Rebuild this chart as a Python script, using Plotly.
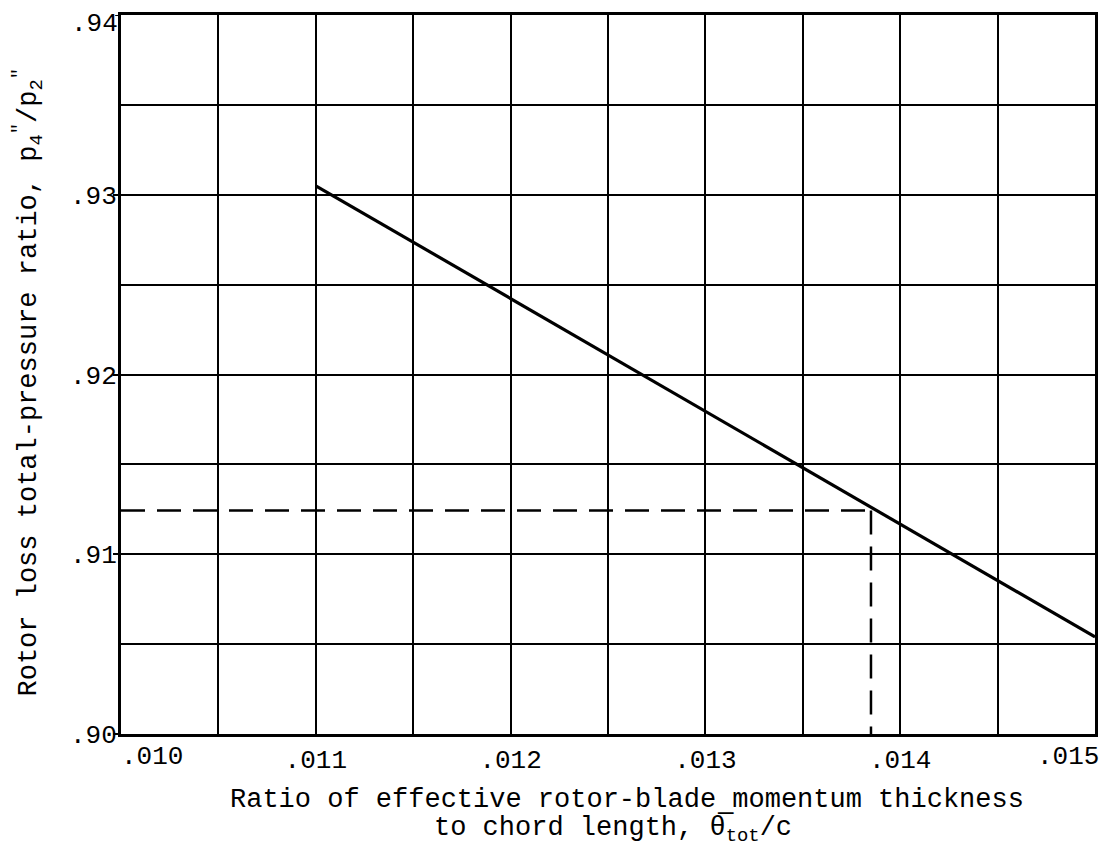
import plotly.graph_objects as go

# Data
line_x = [0.011, 0.015]
line_y = [0.9305, 0.9054]
ref_x = 0.01385
ref_y = 0.91243
dash_h_x = [0.010, ref_x]
dash_h_y = [ref_y, ref_y]
dash_v_x = [ref_x, ref_x]
dash_v_y = [ref_y, 0.900]

x_ticks = [0.010, 0.011, 0.012, 0.013, 0.014, 0.015]
x_tick_text = [".010", ".011", ".012", ".013", ".014", ".015"]
y_ticks = [0.90, 0.91, 0.92, 0.93, 0.94]
y_tick_text = [".90", ".91", ".92", ".93", ".94"]

x_title_1 = "Ratio of effective rotor-blade momentum thickness"
x_title_2 = "to chord length, θ\u0305<sub>tot</sub>/c"
y_title = 'Rotor loss total-pressure ratio, p<sub>4</sub><sup>"</sup>/p<sub>2</sub><sup>"</sup>'

FONT = "Liberation Mono"
TICK_SIZE = 26
TITLE_SIZE = 27

fig = go.Figure()
fig.add_trace(go.Scatter(x=dash_h_x, y=dash_h_y, mode="lines",
                         line=dict(color="black", width=2.5, dash="24px,12px"),
                         showlegend=False))
fig.add_trace(go.Scatter(x=dash_v_x, y=dash_v_y, mode="lines",
                         line=dict(color="black", width=2.5, dash="24px,12px"),
                         showlegend=False))
fig.add_trace(go.Scatter(x=line_x, y=line_y, mode="lines",
                         line=dict(color="black", width=3.2),
                         showlegend=False))

inner_x = range(1, len(x_ticks) - 1)
fig.update_xaxes(
    range=[0.010, 0.015],
    tickvals=[x_ticks[i] for i in inner_x],
    ticktext=[x_tick_text[i] for i in inner_x],
    ticks="", showgrid=True, gridcolor="black", gridwidth=2,
    minor=dict(dtick=0.0005, showgrid=True, gridcolor="black", gridwidth=2),
    showline=True, linecolor="black", linewidth=3, mirror=True,
    zeroline=False, automargin=False,
    tickfont=dict(family=FONT, size=TICK_SIZE, color="black"),
)
# top y label (.94) is drawn as an annotation so it is not lost at the page edge
fig.update_yaxes(
    range=[0.90, 0.94],
    tickvals=y_ticks[:-1], ticktext=y_tick_text[:-1],
    ticks="outside", ticklen=5, tickcolor="black", tickwidth=2,
    ticklabelstandoff=-9,
    showgrid=True, gridcolor="black", gridwidth=2,
    minor=dict(dtick=0.005, showgrid=True, gridcolor="black", gridwidth=2),
    showline=True, linecolor="black", linewidth=3, mirror=True,
    zeroline=False, automargin=False,
    tickfont=dict(family=FONT, size=TICK_SIZE, color="black"),
)
fig.add_shape(type="line", xref="paper", yref="y", x0=-0.006, x1=0,
              y0=y_ticks[-1], y1=y_ticks[-1], line=dict(color="black", width=2))
fig.add_annotation(x=0, y=y_ticks[-1], xref="paper", yref="y", text=y_tick_text[-1],
                   showarrow=False, xanchor="right", yanchor="top", xshift=-1, yshift=8,
                   font=dict(family=FONT, size=TICK_SIZE, color="black"))

# end x tick labels, offset inward as in the reference
fig.add_annotation(x=x_ticks[0], y=0, xref="x", yref="paper", text=x_tick_text[0],
                   showarrow=False, xanchor="left", yanchor="top", xshift=-2, yshift=-6,
                   font=dict(family=FONT, size=TICK_SIZE, color="black"))
fig.add_annotation(x=x_ticks[-1], y=0, xref="x", yref="paper", text=x_tick_text[-1],
                   showarrow=False, xanchor="right", yanchor="top", xshift=6, yshift=-6,
                   font=dict(family=FONT, size=TICK_SIZE, color="black"))

# axis titles
fig.add_annotation(x=0.52, y=0, xref="paper", yref="paper", text=x_title_1,
                   showarrow=False, xanchor="center", yanchor="middle", yshift=-66,
                   font=dict(family=FONT, size=TITLE_SIZE, color="black"))
fig.add_annotation(x=0.505, y=0, xref="paper", yref="paper", text=x_title_2,
                   showarrow=False, xanchor="center", yanchor="middle", yshift=-95,
                   font=dict(family=FONT, size=TITLE_SIZE, color="black"))
fig.add_annotation(x=0, y=0.5, xref="paper", yref="paper", text=y_title,
                   showarrow=False, textangle=-90, xanchor="center", yanchor="middle",
                   xshift=-93, yshift=-8,
                   font=dict(family=FONT, size=TITLE_SIZE, color="black"))

# page body has an 8px margin, so the figure is 8px smaller and offsets compensate
fig.update_layout(
    width=1111, height=841,
    margin=dict(l=113, r=24, t=7, b=115),
    paper_bgcolor="white", plot_bgcolor="white",
)
fig.write_html("out.html")
